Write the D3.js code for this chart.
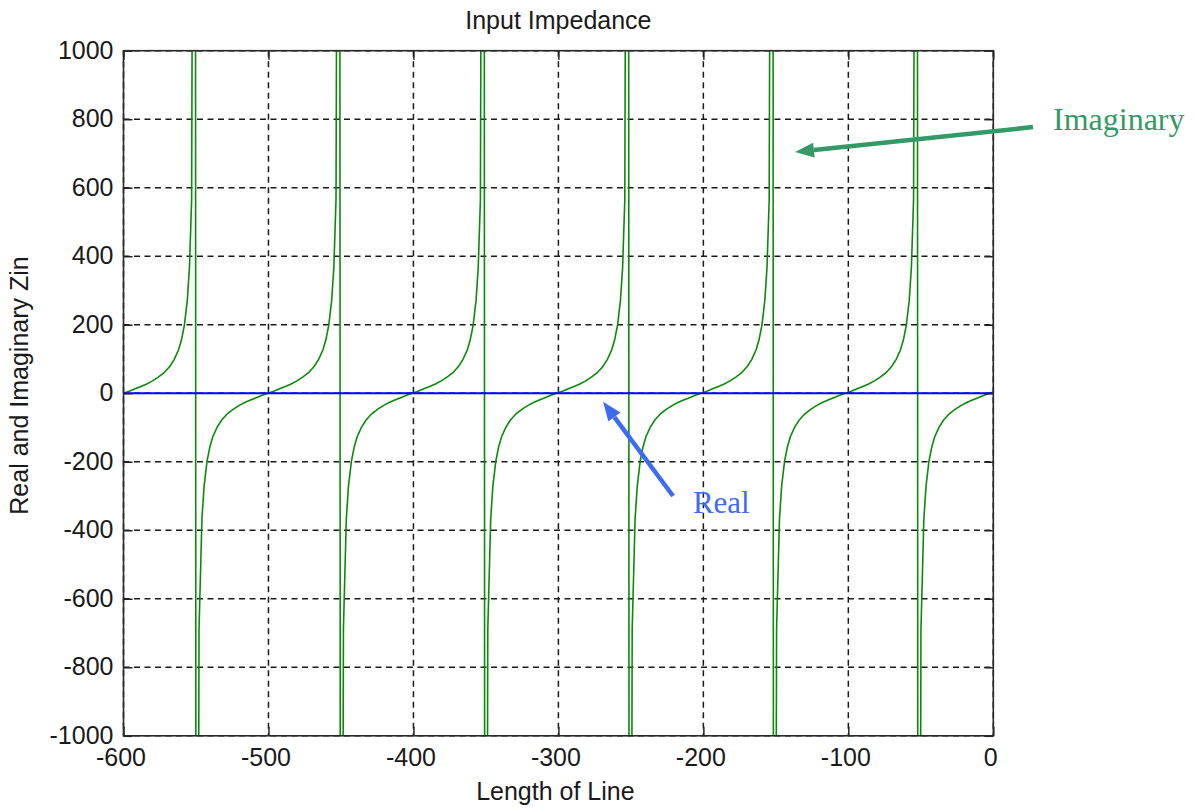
<!DOCTYPE html>
<html>
<head>
<meta charset="utf-8">
<script src="https://cdn.jsdelivr.net/npm/d3@7"></script>
<style>
  body { margin: 0; background: #fff; }
  svg text { font-family: "Liberation Sans", Arial, sans-serif; }
</style>
</head>
<body>
<svg id="chart" width="1196" height="810"></svg>
<script>
// axis ticks
const xTicks = [-600, -500, -400, -300, -200, -100, 0]
const yTicks = [-1000, -800, -600, -400, -200, 0, 200, 400, 600, 800, 1000]

// real part of Zin (lossless line, stays at zero)
const realX = [-600, 0]
const realY = [0, 0]

// imaginary part of Zin, read off the picture branch by branch
// (values past +-1000 are the samples either side of each asymptote)
const imagX = [
  -600, -596, -592, -588, -584, -580, -576, -572, -568, -565, -562, -560, -558, -556, -554.5, -553, -550.6,
  -549.8, -547.9, -545.9, -544.4, -542.4, -540.4, -538.4, -535.4, -532.4, -528.4, -524.4, -520.4, -516.4, -512.4, -508.4, -504.4,
  -500.4, -496.4, -492.4, -488.4, -484.4, -480.4, -476.4, -472.4, -468.4, -465.4, -462.4, -460.4, -458.4, -456.4, -454.9, -453.4, -451.0,
  -450.2, -448.3, -446.3, -444.8, -442.8, -440.8, -438.8, -435.8, -432.8, -428.8, -424.8, -420.8, -416.8, -412.8, -408.8, -404.8,
  -400.8, -396.8, -392.8, -388.8, -384.8, -380.8, -376.8, -372.8, -368.8, -365.8, -362.8, -360.8, -358.8, -356.8, -355.3, -353.8, -351.4,
  -350.6, -348.7, -346.7, -345.2, -343.2, -341.2, -339.2, -336.2, -333.2, -329.2, -325.2, -321.2, -317.2, -313.2, -309.2, -305.2,
  -301.2, -297.2, -293.2, -289.2, -285.2, -281.2, -277.2, -273.2, -269.2, -266.2, -263.2, -261.2, -259.2, -257.2, -255.7, -254.2, -251.8,
  -251.0, -249.1, -247.1, -245.6, -243.6, -241.6, -239.6, -236.6, -233.6, -229.6, -225.6, -221.6, -217.6, -213.6, -209.6, -205.6,
  -201.6, -197.6, -193.6, -189.6, -185.6, -181.6, -177.6, -173.6, -169.6, -166.6, -163.6, -161.6, -159.6, -157.6, -156.1, -154.6, -152.2,
  -151.4, -149.5, -147.5, -146.0, -144.0, -142.0, -140.0, -137.0, -134.0, -130.0, -126.0, -122.0, -118.0, -114.0, -110.0, -106.0,
  -102, -98, -94, -90, -86, -82, -78, -74, -70, -67, -64, -62, -60, -58, -56.5, -55, -52.6,
  -51.8, -49.9, -47.9, -46.4, -44.4, -42.4, -40.4, -37.4, -34.4, -30.4, -26.4, -22.4, -18.4, -14.4, -10.4, -6.4,
  -2.4, 0
]
const imagY = [
  0, 6, 13, 20, 27, 36, 47, 60, 79, 99, 127, 156, 199, 271, 367, 565, 4000,
  -4000, -689, -367, -271, -199, -156, -127, -99, -79, -60, -47, -36, -27, -20, -13, -6,
  0, 6, 13, 20, 27, 36, 47, 60, 79, 99, 127, 156, 199, 271, 367, 565, 4000,
  -4000, -689, -367, -271, -199, -156, -127, -99, -79, -60, -47, -36, -27, -20, -13, -6,
  0, 6, 13, 20, 27, 36, 47, 60, 79, 99, 127, 156, 199, 271, 367, 565, 4000,
  -4000, -689, -367, -271, -199, -156, -127, -99, -79, -60, -47, -36, -27, -20, -13, -6,
  0, 6, 13, 20, 27, 36, 47, 60, 79, 99, 127, 156, 199, 271, 367, 565, 4000,
  -4000, -689, -367, -271, -199, -156, -127, -99, -79, -60, -47, -36, -27, -20, -13, -6,
  0, 6, 13, 20, 27, 36, 47, 60, 79, 99, 127, 156, 199, 271, 367, 565, 4000,
  -4000, -689, -367, -271, -199, -156, -127, -99, -79, -60, -47, -36, -27, -20, -13, -6,
  0, 6, 13, 20, 27, 36, 47, 60, 79, 99, 127, 156, 199, 271, 367, 565, 4000,
  -4000, -689, -367, -271, -199, -156, -127, -99, -79, -60, -47, -36, -27, -20, -13, -6,
  0, 4
]

// annotation arrows in data units: [tailX, tailY, tipX, tipY]
const imagArrow = [27.4, 777, -136.8, 704]
const realArrow = [-220.9, -300, -269.2, -25]
const imagLabelPos = [41.2, 769]
const realLabelPos = [-207.2, -349]

const svg = d3.select("#chart")

const plotL = 123.5, plotR = 993.3, plotT = 50.7, plotB = 735.8

var x = d3.scaleLinear().domain([-600, 0]).range([plotL, plotR])
var y = d3.scaleLinear().domain([-1000, 1000]).range([plotB, plotT])

// plain hyphen minus like the original figure
const fmt = d => String(d)

// clip for the curves
svg.append("defs").append("clipPath")
    .attr("id", "plotClip")
  .append("rect")
    .attr("x", plotL).attr("y", plotT)
    .attr("width", plotR - plotL).attr("height", plotB - plotT)

// dashed grid
const grid = svg.append("g").attr("class", "grid")
grid.selectAll("line.vx")
    .data(xTicks)
    .enter()
    .append("line")
        .attr("class", "vx")
        .attr("x1", d => x(d)).attr("x2", d => x(d))
        .attr("y1", plotT).attr("y2", plotB)
grid.selectAll("line.hy")
    .data(yTicks)
    .enter()
    .append("line")
        .attr("class", "hy")
        .attr("x1", plotL).attr("x2", plotR)
        .attr("y1", d => y(d)).attr("y2", d => y(d))
grid.selectAll("line")
    .attr("stroke", "#1a1a1a")
    .attr("stroke-width", 1.5)
    .attr("stroke-dasharray", "6,4.5")

// curves
const imagData = imagX.map((v, i) => [v, imagY[i]])
const realData = realX.map((v, i) => [v, realY[i]])
const line = d3.line().x(d => x(d[0])).y(d => y(d[1]))

const curves = svg.append("g").attr("clip-path", "url(#plotClip)")
curves.append("path")
    .datum(imagData)
    .attr("d", line)
    .attr("fill", "none")
    .attr("stroke", "#0a8a0a")
    .attr("stroke-width", 1.6)
curves.append("path")
    .datum(realData)
    .attr("d", line)
    .attr("fill", "none")
    .attr("stroke", "#0000ff")
    .attr("stroke-width", 2)

// axes with inward ticks on all four sides
const tickLen = 9
function styleAxis(g) {
    g.select(".domain").remove()
    g.selectAll(".tick line").attr("stroke", "#222").attr("stroke-width", 1.5)
    g.selectAll("text")
        .attr("fill", "#1a1a1a")
        .style("font-size", "25px")
        .style("font-family", "Liberation Sans, Arial, sans-serif")
}

svg.append("g")
    .attr("transform", `translate(0, ${plotB})`)
    .call(d3.axisBottom(x).tickValues(xTicks).tickSize(-tickLen).tickPadding(12).tickFormat(fmt))
    .call(styleAxis)
    .selectAll("text").attr("dx", -3)

svg.append("g")
    .attr("transform", `translate(0, ${plotT})`)
    .call(d3.axisTop(x).tickValues(xTicks).tickSize(-tickLen).tickFormat(""))
    .call(styleAxis)

svg.append("g")
    .attr("transform", `translate(${plotL}, 0)`)
    .call(d3.axisLeft(y).tickValues(yTicks).tickSize(-tickLen).tickPadding(10).tickFormat(fmt))
    .call(styleAxis)
    .selectAll("text").attr("dy", "0.3em")

svg.append("g")
    .attr("transform", `translate(${plotR}, 0)`)
    .call(d3.axisRight(y).tickValues(yTicks).tickSize(-tickLen).tickFormat(""))
    .call(styleAxis)

// box
svg.append("rect")
    .attr("x", plotL).attr("y", plotT)
    .attr("width", plotR - plotL).attr("height", plotB - plotT)
    .attr("fill", "none")
    .attr("stroke", "#2a2a2a")
    .attr("stroke-width", 1.6)

// titles
svg.append("text")
    .attr("x", (plotL + plotR) / 2).attr("y", 29)
    .attr("text-anchor", "middle")
    .style("font-size", "25px")
    .attr("fill", "#1a1a1a")
    .text("Input Impedance")

svg.append("text")
    .attr("x", (plotL + plotR) / 2 - 3).attr("y", 800)
    .attr("text-anchor", "middle")
    .style("font-size", "25px")
    .attr("fill", "#1a1a1a")
    .text("Length of Line")

svg.append("text")
    .attr("transform", `translate(28, ${(248 + 523) / 2}) rotate(-90)`)
    .attr("text-anchor", "middle")
    .style("font-size", "25px")
    .attr("fill", "#1a1a1a")
    .text("Real and Imaginary Zin")

// annotation arrows
function drawArrow(a, color) {
    const x1 = x(a[0]), y1 = y(a[1]), x2 = x(a[2]), y2 = y(a[3])
    const ang = Math.atan2(y2 - y1, x2 - x1)
    const headLen = 19, headW = 7.5
    const bx = x2 - headLen * Math.cos(ang), by = y2 - headLen * Math.sin(ang)
    svg.append("line")
        .attr("x1", x1).attr("y1", y1).attr("x2", bx).attr("y2", by)
        .attr("stroke", color).attr("stroke-width", 4.5)
    svg.append("polygon")
        .attr("points", [
            [x2, y2],
            [bx + headW * Math.sin(ang), by - headW * Math.cos(ang)],
            [bx - headW * Math.sin(ang), by + headW * Math.cos(ang)]
        ].map(p => p.join(",")).join(" "))
        .attr("fill", color)
}

drawArrow(imagArrow, "#339966")
drawArrow(realArrow, "#3d6cf2")

svg.append("text")
    .attr("x", x(imagLabelPos[0])).attr("y", y(imagLabelPos[1]))
    .style("font-family", "Liberation Serif, Times New Roman, serif")
    .style("font-size", "32px")
    .attr("fill", "#339966")
    .text("Imaginary")

svg.append("text")
    .attr("x", x(realLabelPos[0])).attr("y", y(realLabelPos[1]))
    .style("font-family", "Liberation Serif, Times New Roman, serif")
    .style("font-size", "31px")
    .attr("fill", "#3d6cf2")
    .text("Real")
</script>
</body>
</html>
